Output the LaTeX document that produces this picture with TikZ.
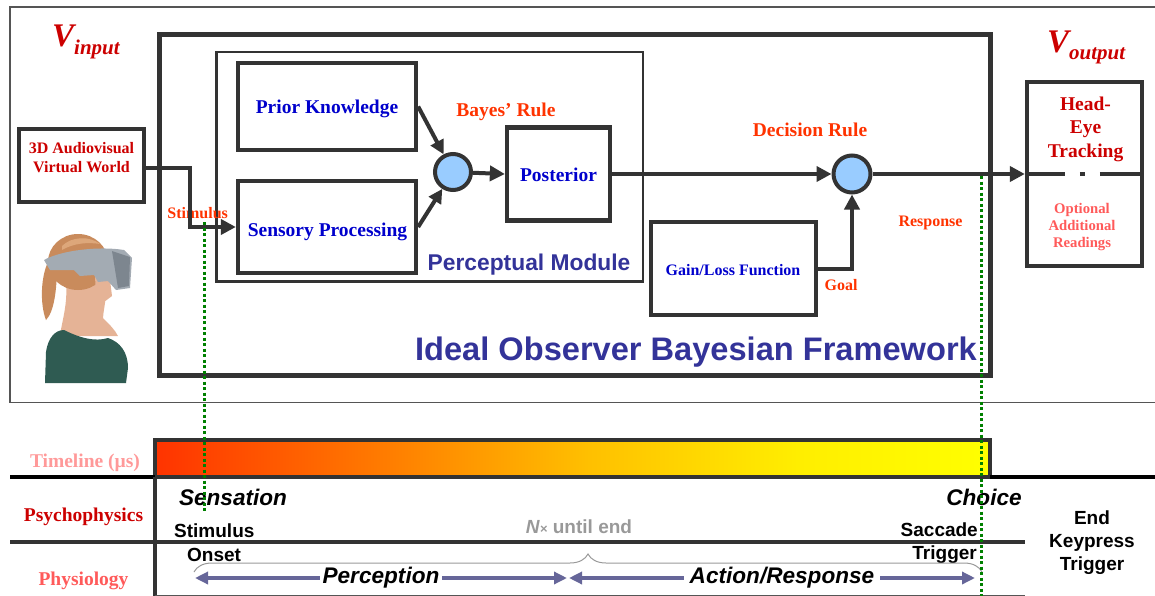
\documentclass[tikz,border=0pt]{standalone}
\usepackage{fontspec}
\setmainfont{Liberation Serif}
\setsansfont{Liberation Sans}
\usetikzlibrary{arrows.meta,decorations.pathreplacing}

\definecolor{ink}{HTML}{333333}
\definecolor{framegray}{HTML}{555555}
\definecolor{titlered}{HTML}{CC0000}
\definecolor{rulered}{HTML}{FF3300}
\definecolor{boxblue}{HTML}{0000CC}
\definecolor{navy}{HTML}{333399}
\definecolor{softred}{HTML}{FF5A5A}
\definecolor{palered}{HTML}{FF9999}
\definecolor{nodefill}{HTML}{99CCFF}
\definecolor{cue}{HTML}{008000}
\definecolor{spanblue}{HTML}{666699}
\definecolor{hintgray}{HTML}{999999}
\definecolor{tA}{HTML}{FF3300}
\definecolor{tB}{HTML}{FF8000}
\definecolor{tC}{HTML}{FFC000}
\definecolor{tD}{HTML}{FFEE00}
\definecolor{tE}{HTML}{FFFF00}
\definecolor{hair}{HTML}{C98B5C}
\definecolor{hairlight}{HTML}{DDA77A}
\definecolor{skin}{HTML}{E5B396}
\definecolor{shirt}{HTML}{2F5B52}
\definecolor{gear}{HTML}{A3ABB3}
\definecolor{geardark}{HTML}{7D868F}

% red to yellow ramp of the time axis
\pgfdeclarehorizontalshading{timegrad}{100bp}{color(0bp)=(tA); color(25bp)=(tA);
  color(39.5bp)=(tB); color(51bp)=(tC); color(63.5bp)=(tD); color(75bp)=(tE); color(100bp)=(tE)}

\begin{document}
\begin{tikzpicture}[x=1pt,y=-1pt,
  box/.style={draw=ink, line width=4.3pt, rectangle, inner sep=0pt},
  ring/.style={draw=ink, line width=4pt, circle, fill=nodefill, minimum size=36pt, inner sep=0pt},
  conn/.style={draw=ink, line width=4pt, -{Triangle[length=15pt,width=15pt]}},
  txt/.style={inner sep=0pt, anchor=base},
  serifA/.style={txt, font=\fontsize{19.5}{19.5}\selectfont\bfseries},
  serifB/.style={txt, font=\fontsize{16}{16}\selectfont\bfseries},
  sansA/.style={txt, font=\sffamily\fontsize{19}{19}\selectfont\bfseries},
  sansI/.style={txt, font=\sffamily\fontsize{22.6}{22.6}\selectfont\bfseries\itshape},
  cueline/.style={draw=cue, line width=3pt, dash pattern=on 3pt off 2.5pt},
  spanarrow/.style={draw=spanblue, line width=3.5pt,
    {Triangle[length=13pt,width=12pt]}-{Triangle[length=13pt,width=12pt]}}]
\useasboundingbox (0,0) rectangle (1155,596);

% outer panel
\draw[framegray, line width=1.5pt] (1155,7) -- (10,7) -- (10,402.5) -- (1155,402.5);

% V input / V output
\node[txt, anchor=base west, text=titlered, font=\fontsize{33}{33}\selectfont\bfseries\itshape]
  (vin) at (52,47) {V\raisebox{-8pt}{\fontsize{21}{21}\selectfont input}};
\node[txt, anchor=base west, text=titlered, font=\fontsize{33}{33}\selectfont\bfseries\itshape]
  (vout) at (1047,53) {V\raisebox{-7pt}{\fontsize{21}{21}\selectfont output}};

% framework and perceptual module frames
\node[box, line width=5pt, minimum width=831pt, minimum height=341pt] (frame) at (575,205) {};
\node[box, line width=2.5pt, minimum width=426.5pt, minimum height=229.5pt] (module) at (429.75,166.75) {};

% boxes
\node[box, minimum width=125pt, minimum height=73pt] (world) at (81.5,165.5) {};
\node[box, minimum width=178pt, minimum height=87pt] (prior) at (327,106.5) {};
\node[box, minimum width=178pt, minimum height=92pt] (sensory) at (327,227) {};
\node[box, minimum width=103pt, minimum height=93pt] (posterior) at (558.5,174) {};
\node[box, minimum width=165pt, minimum height=93pt] (gain) at (733.5,268.5) {};
\node[box, minimum width=115pt, minimum height=184pt] (headeye) at (1084.5,174) {};
\node[ring] (bayes) at (453,172) {};
\node[ring, minimum size=37pt] (decision) at (852,174) {};

% box texts
\node[serifB, text=titlered] (worldA) at (81.5,153.3) {3D Audiovisual};
\node[serifB, text=titlered] (worldB) at (81.5,172.7) {Virtual World};
\node[serifA, text=boxblue] (priorT) at (327,113.3) {Prior Knowledge};
\node[serifA, text=boxblue] (sensoryT) at (327.5,236.7) {Sensory Processing};
\node[serifA, text=boxblue] (posteriorT) at (558.5,181.7) {Posterior};
\node[serifB, text=boxblue] (gainT) at (733,275) {Gain/Loss Function};
\node[serifA, text=titlered] (heA) at (1085.5,110.7) {Head-};
\node[serifA, text=titlered] (heB) at (1085.5,134) {Eye};
\node[serifA, text=titlered] (heC) at (1085.5,157.3) {Tracking};
\node[txt, text=softred, font=\fontsize{14.7}{14.7}\selectfont\bfseries] (optA) at (1082,213.3) {Optional};
\node[txt, text=softred, font=\fontsize{14.7}{14.7}\selectfont\bfseries] (optB) at (1082,230.7) {Additional};
\node[txt, text=softred, font=\fontsize{14.7}{14.7}\selectfont\bfseries] (optC) at (1082,247.3) {Readings};

% rule and signal labels
\node[serifB, text=rulered] (stimT) at (197.7,218.3) {Stimulus};
\node[serifA, text=rulered] (bayesT) at (506,116.7) {Bayes’ Rule};
\node[serifA, text=rulered] (decisionT) at (810,136.7) {Decision Rule};
\node[serifB, text=rulered] (goalT) at (841,290) {Goal};
\node[serifB, text=rulered] (responseT) at (930.5,226) {Response};
\node[txt, anchor=base west, text=navy, font=\sffamily\fontsize{22.8}{22.8}\selectfont\bfseries]
  (moduleT) at (427.5,270) {Perceptual Module};
\node[txt, text=navy, font=\sffamily\fontsize{32.6}{32.6}\selectfont\bfseries]
  (frameT) at (696,360) {Ideal Observer Bayesian Framework};

% connectors
\draw[conn] ([yshift=-2.5pt]world.east) -- ++(44,0) |- (sensory.west);
\draw[conn, -{Triangle[length=14pt,width=14pt]}] (prior.east) -- (bayes);
\draw[conn, -{Triangle[length=14pt,width=14pt]}] (sensory.east) -- (bayes);
\draw[conn] (bayes) -- (posterior.west);
\draw[conn] (posterior.east) -- (decision.west);
\draw[conn] (gain.east) -| (decision.south);
\draw[conn] (decision.east) -- (headeye.west);
\draw[draw=ink, line width=4pt, dash pattern=on 40pt off 15pt on 5pt off 15pt on 40pt]
  (headeye.west) -- (headeye.east);

% headset wearer
\fill[hair] (50,258) .. controls (40,275) and (40,305) .. (46,320) .. controls (54,312) and (57,290) .. (57,265) -- cycle;
\fill[skin] (66,280) -- (104,282) .. controls (108,295) and (104,305) .. (103,318)
  .. controls (110,325) and (115,330) .. (118,336) -- (60,336) .. controls (62,320) and (68,305) .. (66,280) -- cycle;
\fill[hair] (78,262) ellipse [x radius=30, y radius=28];
\fill[hairlight] (62,246) .. controls (72,236) and (90,236) .. (100,244) .. controls (88,242) and (74,243) .. (62,250) -- cycle;
\fill[skin] (95,276) -- (110,280) -- (112,296) -- (104,302) -- (96,296) -- cycle;
\fill[gear] (44,260) .. controls (62,250) and (100,246) .. (124,250) -- (132,258) -- (130,288) -- (116,290)
  -- (108,281) -- (98,282) -- (94,275) -- (80,276) -- (74,270) -- (50,270) -- cycle;
\fill[geardark] (112,251) -- (130,257) -- (129,286) -- (118,288) -- cycle;
\fill[shirt] (45,383) -- (46,352) .. controls (48,338) and (55,330) .. (64,330)
  .. controls (80,338) and (95,342) .. (108,338) .. controls (120,342) and (128,352) .. (128,368) -- (126,383) -- cycle;

% time axis
\node[draw=ink, line width=4.5pt, shade, shading=timegrad, minimum width=835pt, minimum height=37pt,
  inner sep=0pt, outer sep=0pt] (timeline) at (572.5,458.5) {};
\coordinate (axisL) at (10,477);
\coordinate (axisR) at (1155,477);
\coordinate (rowL) at (10,542);
\coordinate (rowR) at (1025,542);
\coordinate (axisFoot) at (155,596);
\draw[black, line width=4.3pt] (axisL) -- (timeline.south west);
\draw[black, line width=4.3pt] (timeline.south east) -- (axisR);
\draw[ink, line width=4pt] (rowL) -- (rowR);
\draw[ink, line width=4.5pt] (timeline.south west) -- (axisFoot);
\draw[framegray, line width=1pt] (155,595) -- (1025,595);

% row labels
\node[serifA, text=palered] (rowT) at (85,467) {Timeline (µs)};
\node[serifA, text=titlered] (rowP) at (83.5,521) {Psychophysics};
\node[serifA, text=softred] (rowS) at (83.5,585) {Physiology};

% events
\node[sansI] (sensation) at (233,505) {Sensation};
\node[sansI] (choice) at (984,505) {Choice};
\node[sansA, anchor=base west] (onsetA) at (174,537) {Stimulus};
\node[sansA, anchor=base west] (onsetB) at (187,561) {Onset};
\node[sansA, anchor=base east] (saccA) at (978,536) {Saccade};
\node[sansA, anchor=base east] (saccB) at (977,559) {Trigger};
\node[sansA] (endA) at (1092,524) {End};
\node[sansA] (endB) at (1092,547.3) {Keypress};
\node[sansA] (endC) at (1092,570.7) {Trigger};
\node[sansA, text=hintgray] (repeatT) at (579,533) {\textit{N}{\fontsize{13}{13}\selectfont ×} until end};

% repeated span and phases
\draw[hintgray, line width=1pt, decorate, decoration={brace, amplitude=18pt, aspect=0.5}]
  (194,572) -- (982,572);
\coordinate (percL) at (195,578);
\coordinate (percR) at (567,578);
\coordinate (actL) at (569,578);
\coordinate (actR) at (975,578);
\draw[spanarrow] (percL) -- (percR)
  node[pos=0.5, fill=white, inner xsep=2.5pt, inner ysep=0pt, font=\sffamily\fontsize{22.6}{22.6}\selectfont\bfseries\itshape] (perception) {Perception};
\draw[spanarrow] (actL) -- (actR)
  node[pos=0.5246, fill=white, inner xsep=6pt, inner ysep=0pt, font=\sffamily\fontsize{22.6}{22.6}\selectfont\bfseries\itshape] (action) {Action/Response};

% event markers
\coordinate (cueAtop) at (204,222);
\coordinate (cueAend) at (204,512);
\coordinate (cueBtop) at (981,176);
\coordinate (cueBend) at (981,596);
\draw[cueline] (cueAtop) -- (cueAend);
\draw[cueline] (cueBtop) -- (cueBend);
\end{tikzpicture}
\end{document}
